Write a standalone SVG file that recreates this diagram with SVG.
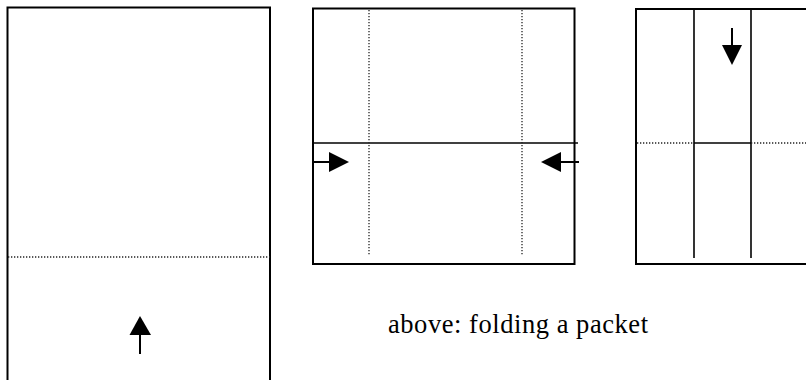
<svg xmlns="http://www.w3.org/2000/svg" width="806" height="380" viewBox="0 0 806 380">
  <style>
    .edge { fill: none; stroke: #000; stroke-width: 2; }
    .fold { fill: none; stroke: #000; stroke-width: 1.6; }
    .dot { fill: none; stroke: #222; stroke-width: 1.3; stroke-dasharray: 1.3 1.7; }
    .shaft { fill: none; stroke: #000; stroke-width: 2; }
    .head { fill: #000; stroke: none; }
    .label { font-family: "Liberation Serif", "Times New Roman", serif; font-size: 26.5px; fill: #000; }
  </style>
  <rect width="806" height="380" fill="#fff"/>

  <g id="panel1">
    <path class="edge" d="M7.5 390 V7.5 H270 V390"/>
    <line class="dot" x1="8" y1="257" x2="270" y2="257"/>
  </g>

  <g id="panel2">
    <rect class="edge" x="313" y="8.5" width="261.5" height="255.5"/>
    <line class="fold" x1="313" y1="143" x2="578" y2="143"/>
    <line class="dot" x1="369" y1="10" x2="369" y2="255"/>
    <line class="dot" x1="522" y1="10" x2="522" y2="255"/>
  </g>

  <g id="panel3">
    <path class="edge" d="M810 9 H636 V264 H810"/>
    <line class="fold" x1="694" y1="9" x2="694" y2="258"/>
    <line class="fold" x1="751" y1="9" x2="751" y2="258"/>
    <line class="fold" x1="694" y1="143" x2="751" y2="143"/>
    <line class="dot" x1="637" y1="143" x2="694" y2="143"/>
    <line class="dot" x1="751" y1="143" x2="806" y2="143"/>
  </g>

  <g id="connectors">
    <line class="shaft" x1="140" y1="354" x2="140" y2="333"/>
    <polygon class="head" points="140,316 151,335 129.5,335"/>
    <line class="shaft" x1="313" y1="162" x2="331" y2="162"/>
    <polygon class="head" points="349,162 329,152 329,172"/>
    <line class="shaft" x1="579" y1="162" x2="559" y2="162"/>
    <polygon class="head" points="541,162 561,152 561,172"/>
    <line class="shaft" x1="732" y1="28" x2="732" y2="47"/>
    <polygon class="head" points="732,65 722,45 742,45"/>
  </g>

  <g id="caption">
    <text class="label" x="388" y="333" textLength="260" lengthAdjust="spacing">above: folding a packet</text>
  </g>
</svg>
